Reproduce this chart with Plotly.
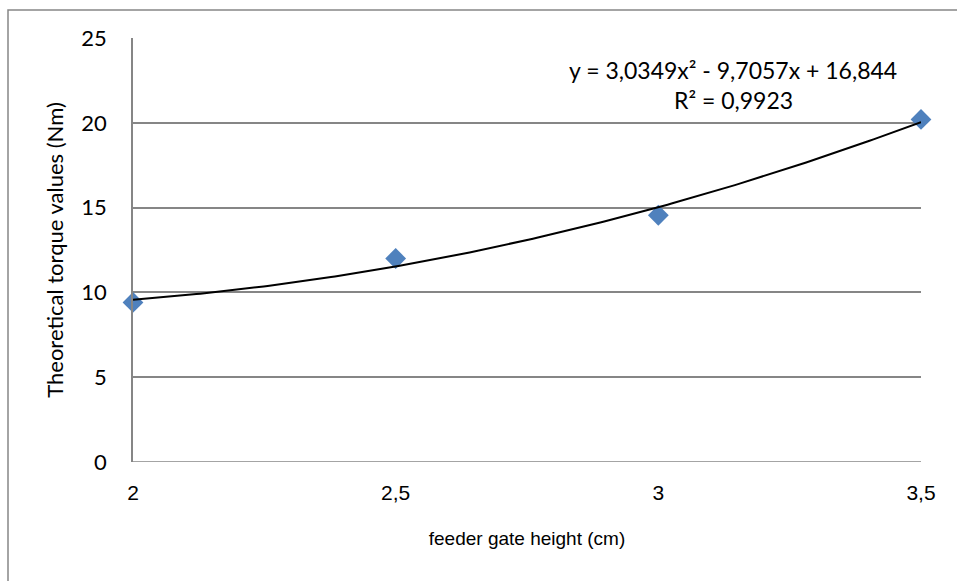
import numpy as np
import plotly.graph_objects as go

# Data
gate_height = [2.0, 2.5, 3.0, 3.5]
torque = [9.41, 12.0, 14.55, 20.2]
y_ticks = [0, 5, 10, 15, 20, 25]
x_ticks = [2, 2.5, 3, 3.5]
x_tick_labels = ["2", "2,5", "3", "3,5"]
equation_text = "y = 3,0349x² - 9,7057x + 16,844"
r2_text = "R² = 0,9923"

# Polynomial (order 2) trendline fitted to the data
coef = np.polyfit(gate_height, torque, 2)
xs = np.linspace(min(gate_height), max(gate_height), 200)
ys = np.polyval(coef, xs)

W, H = 957, 581
L, R, T, B = 133, 36, 38, 119
pw, ph = W - L - R, H - T - B

grid_col = "#868686"
narrow = "Liberation Sans Narrow, Liberation Sans, Arial, sans-serif"
normal = "Lato, sans-serif"

fig = go.Figure()
fig.add_trace(go.Scatter(
    x=gate_height, y=torque, mode="markers",
    marker=dict(symbol="diamond", size=16, color="#4F81BD",
                line=dict(width=0)),
    showlegend=False, cliponaxis=False))
fig.add_trace(go.Scatter(
    x=xs, y=ys, mode="lines",
    line=dict(color="black", width=2),
    showlegend=False, cliponaxis=False))

fig.update_layout(
    width=W, height=H,
    margin=dict(l=L, r=R, t=T, b=B, pad=0),
    paper_bgcolor="white", plot_bgcolor="white",
    separators=",.",
    showlegend=False,
    xaxis=dict(
        range=[2, 3.5], tickvals=x_ticks, ticktext=x_tick_labels,
        showgrid=False, zeroline=False, showline=False,
        ticks="outside", ticklen=12, tickcolor="rgba(0,0,0,0)",
        tickfont=dict(family=narrow, size=21, color="black"),
        title=dict(text="feeder gate height (cm)",
                   font=dict(family=narrow, size=19, color="black"),
                   standoff=28),
    ),
    yaxis=dict(
        range=[0, 25], tickvals=y_ticks,
        showgrid=True, gridcolor=grid_col, gridwidth=1.5,
        zeroline=False, showline=True, linecolor=grid_col, linewidth=1.5,
        ticks="outside", ticklen=20, tickcolor="rgba(0,0,0,0)",
        tickfont=dict(family=normal, size=22, color="black"),
        title=dict(text="Theoretical torque values (Nm)",
                   font=dict(family=normal, size=22, color="black"),
                   standoff=12),
    ),
)

# Bottom axis line (y = 0 gridline look)
fig.add_shape(type="line", xref="paper", yref="y", x0=0, x1=1, y0=0, y1=0,
              line=dict(color=grid_col, width=1.5), layer="below")

# Outer chart border
fig.add_shape(type="rect", xref="paper", yref="paper",
              x0=(8 - L) / pw, x1=(W + 20 - L) / pw,
              y0=(H - B - (H + 20)) / ph, y1=(H - B - 10) / ph,
              line=dict(color=grid_col, width=1.5), fillcolor="rgba(0,0,0,0)",
              layer="below")

fig.add_annotation(xref="paper", yref="paper", xanchor="center", yanchor="middle",
                   x=(733 - L) / pw, y=(H - B - 70) / ph,
                   text=equation_text, showarrow=False,
                   font=dict(family=normal, size=23, color="black"))
fig.add_annotation(xref="paper", yref="paper", xanchor="center", yanchor="middle",
                   x=(733 - L) / pw, y=(H - B - 100) / ph,
                   text=r2_text, showarrow=False,
                   font=dict(family=normal, size=23, color="black"))

fig.write_html("out.html")
